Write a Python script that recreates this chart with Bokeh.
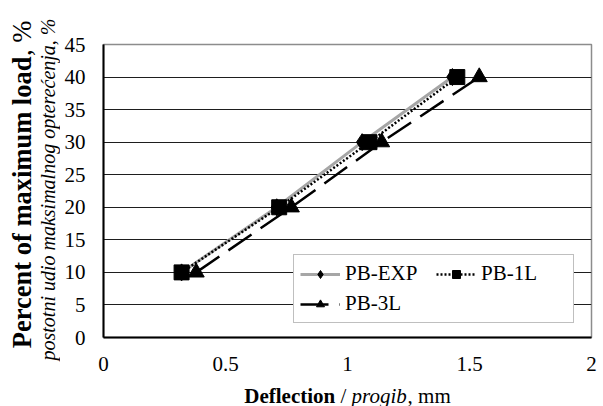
import math
from bokeh.plotting import figure
from bokeh.layouts import row, column
from bokeh.models import Range1d, FixedTicker, Legend, LegendItem, ColumnDataSource
from bokeh.core.properties import value
from bokeh.embed import file_html
from bokeh.resources import INLINE

# ---------------- data ----------------
load_pct = [10, 20, 30, 40]
defl_exp = [0.32, 0.71, 1.06, 1.43]
defl_1l = [0.32, 0.72, 1.09, 1.45]
defl_3l = [0.38, 0.77, 1.14, 1.54]
series_names = ["PB-EXP", "PB-1L", "PB-3L"]
x_ticks = [0, 0.5, 1, 1.5, 2]
y_ticks = [0, 5, 10, 15, 20, 25, 30, 35, 40, 45]
x_title = [("Deflection", "bold"), (" / ", "normal"), ("progib", "italic"), (", mm", "normal")]
y_title_1 = [("Percent of maximum load", "bold"), (", %", "normal")]
y_title_2 = "postotni udio maksimalnog opterećenja, %"

FONT = "Liberation Serif"
W, H = 603, 406
LEFT_W = 60          # strip holding the y-axis title
BOTTOM_H = 30        # strip holding the x-axis title
MAIN_W, MAIN_H = W - LEFT_W, H - BOTTOM_H

# Times New Roman / Liberation Serif advance widths (em)
WB = {'P': .611, 'e': .444, 'r': .444, 'c': .444, 'n': .556, 't': .333, ' ': .25, 'o': .5, 'f': .333,
      'm': .833, 'a': .5, 'x': .5, 'i': .278, 'u': .556, 'l': .278, 'd': .556, 'D': .722}
WR = {',': .25, ' ': .25, '%': .833, '/': .278, 'm': .778}
WI = {'p': .5, 'r': .389, 'o': .5, 'g': .5, 'i': .278, 'b': .5}


def tw(s, style, size):
    table = {"bold": WB, "normal": WR, "italic": WI}[style]
    return sum(table.get(ch, 0.5) for ch in s) * size


# ---------------- main chart ----------------
p = figure(width=MAIN_W, height=MAIN_H, output_backend="svg", toolbar_location=None,
           x_range=Range1d(0, 2), y_range=Range1d(0, 45), title=None,
           min_border_left=43, min_border_right=12, min_border_top=44, min_border_bottom=39)
p.background_fill_color = "white"
p.border_fill_color = "white"
p.outline_line_color = "#8c8c8c"
p.outline_line_width = 1.5

p.xgrid.visible = False
p.ygrid.ticker = FixedTicker(ticks=y_ticks[1:-1])
p.ygrid.grid_line_color = "#1e1e1e"
p.ygrid.grid_line_width = 1

for ax in (p.xaxis[0], p.yaxis[0]):
    ax.axis_line_color = "black"
    ax.axis_line_width = 2
    ax.major_tick_line_color = None
    ax.minor_tick_line_color = None
    ax.major_label_text_font = FONT
    ax.major_label_text_font_size = "21px"
    ax.major_label_text_color = "black"
p.xaxis[0].ticker = FixedTicker(ticks=x_ticks)
p.yaxis[0].ticker = FixedTicker(ticks=y_ticks)
p.xaxis[0].major_label_overrides = {0: "0", 0.5: "0.5", 1: "1", 1.5: "1.5", 2: "2"}
p.xaxis[0].major_label_standoff = 13
p.yaxis[0].major_label_standoff = 12

src_exp = ColumnDataSource(dict(x=defl_exp, y=load_pct))
src_1l = ColumnDataSource(dict(x=defl_1l, y=load_pct))
src_3l = ColumnDataSource(dict(x=defl_3l, y=load_pct))

l_exp = p.line("x", "y", source=src_exp, line_color="#a6a6a6", line_width=3)
m_exp = p.scatter("x", "y", source=src_exp, marker="diamond", size=17, color="black")
l_1l = p.line("x", "y", source=src_1l, line_color="black", line_width=2.5, line_dash="2 2")
m_1l = p.scatter("x", "y", source=src_1l, marker="square", size=15, color="black")
l_3l = p.line("x", "y", source=src_3l, line_color="black", line_width=2.5, line_dash="28 11")
m_3l = p.scatter("x", "y", source=src_3l, marker="triangle", size=16, color="black")

legend = Legend(items=[LegendItem(label=series_names[0], renderers=[l_exp, m_exp]),
                       LegendItem(label=series_names[1], renderers=[l_1l, m_1l]),
                       LegendItem(label=series_names[2], renderers=[l_3l, m_3l])],
                location=(190, 14), orientation="horizontal", ncols=2)
legend.label_text_font = FONT
legend.label_text_font_size = "21px"
legend.label_text_color = "black"
legend.border_line_color = "#7f7f7f"
legend.border_line_width = 1.5
legend.background_fill_color = "white"
legend.background_fill_alpha = 1
legend.glyph_width = 40
legend.glyph_height = 20
legend.label_standoff = 5
legend.label_width = 86
legend.padding = 6
legend.spacing = 5
legend.margin = 0
p.add_layout(legend)


def strip_figure(w, h):
    f = figure(width=w, height=h, output_backend="svg", toolbar_location=None, title=None,
               x_range=Range1d(0, w), y_range=Range1d(0, h),
               x_axis_type=None, y_axis_type=None, min_border=0, frame_align=False)
    f.grid.visible = False
    f.outline_line_color = None
    f.background_fill_color = "white"
    f.border_fill_color = "white"
    return f


def segments(parts, size, start):
    """Yield (position, stripped text, style) for consecutive text runs."""
    pos = start
    for s, st in parts:
        lead = len(s) - len(s.lstrip())
        yield pos + lead * tw(" ", "normal", size), s.strip(), st
        pos += tw(s, st, size)


# ---------------- y-axis title strip ----------------
left = strip_figure(LEFT_W, MAIN_H)
ys1 = 26.5
total = sum(tw(s, st, ys1) for s, st in y_title_1)
for pos, s, st in segments(y_title_1, ys1, (MAIN_H - 184) - total / 2):
    left.text(x=[21], y=[pos], text=[s], angle=math.pi / 2, text_font=value(FONT),
              text_font_size=value(f"{ys1}px"), text_font_style=st, text_align="left",
              text_baseline="middle", text_color="black")

left.text(x=[47], y=[MAIN_H - 189], text=[y_title_2], angle=math.pi / 2, text_font=value(FONT),
          text_font_size=value("20px"), text_font_style="italic", text_align="center",
          text_baseline="middle", text_color="black")

# ---------------- x-axis title strip ----------------
bottom = strip_figure(W, BOTTOM_H)
xs = 21
total = sum(tw(s, st, xs) for s, st in x_title)
for pos, s, st in segments(x_title, xs, 347 - total / 2):
    bottom.text(x=[pos], y=[BOTTOM_H / 2 - 4], text=[s], text_font=value(FONT),
                text_font_size=value(f"{xs}px"), text_font_style=st, text_align="left",
                text_baseline="middle", text_color="black")

layout = column(row(left, p, spacing=0), bottom, spacing=0)
open("out.html", "w").write(file_html(layout, INLINE))
